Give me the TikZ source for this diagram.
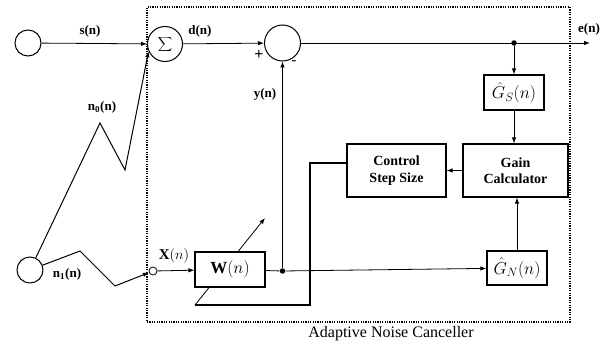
\documentclass[tikz,border=0pt]{standalone}
\usepackage{fontspec}
\setmainfont{Liberation Serif}
\usetikzlibrary{arrows.meta}
\begin{document}
\begin{tikzpicture}[x=1pt,y=-1pt, line width=0.8pt, >={Latex[length=6pt,width=4.5pt]},
  src/.style={circle, draw, minimum size=26pt, inner sep=0pt, line width=1pt},
  blk/.style={rectangle, draw, fill=white, line width=1.2pt, inner sep=1pt, align=center,
    font=\bfseries\fontsize{14}{16.5}\selectfont},
  mblk/.style={blk, font=\fontsize{17}{19}\selectfont},
  lbl/.style={font=\bfseries\fontsize{13}{15}\selectfont, inner sep=1pt},
  junc/.style={circle, fill, minimum size=5.5pt, inner sep=0pt},
  zig/.style={line width=1pt}]
\useasboundingbox (0,0) rectangle (605,345);

% dotted frame of the canceller
\node[draw, dash pattern=on 1.2pt off 1.2pt, line width=1.3pt, minimum width=423pt,
      minimum height=315pt, inner sep=0pt] (anc) at (358.5,164.5) {};
\node[font=\fontsize{16}{18}\selectfont, inner sep=1pt] (anclbl) at (391,334) {Adaptive Noise Canceller};

% adaptation path (drawn before W so the box covers it)
\coordinate (c1) at (310,163);
\coordinate (c2) at (310,305);
\coordinate (wa) at (195,305);
\coordinate (wtip) at (265,218);
\draw[->] (wa) -- (wtip);

% sources and summers
\node[src] (s) at (28,43) {};
\node[src] (n1) at (30,270) {};
\node[src, minimum size=35pt] (sum) at (165,44) {\fontsize{15}{15}\selectfont$\displaystyle\sum$};
\node[src, minimum size=36pt] (sub) at (282.5,43) {};
\node[circle, draw, minimum size=8pt, inner sep=0pt, line width=0.8pt] (xin) at (153,271) {};

% blocks
\node[mblk, minimum width=70pt, minimum height=35pt] (W) at (230,269.5) {$\mathbf{W}(n)$};
\node[mblk, minimum width=60pt, minimum height=35pt, inner sep=0pt] (GS) at (514,92.5) {$\hat{G}_S(n)$};
\node[mblk, minimum width=60pt, minimum height=34pt, inner sep=0pt] (GN) at (517,268) {$\hat{G}_N(n)$};
\node[blk, minimum width=105pt, minimum height=53pt] (gain) at (515.5,170.5) {Gain\\Calculator};
\node[blk, minimum width=99pt, minimum height=53pt] (ctrl) at (396.5,170.5) {Control\\Step Size};

% junctions
\node[junc] (j1) at (514,43) {};
\node[junc] (j2) at (282.5,271) {};
\coordinate (eout) at (590,43);

% labels
\node[lbl] (sl) at (90,31) {s(n)};
\node[lbl] (dl) at (200,31) {d(n)};
\node[lbl] (el) at (589,29) {e(n)};
\node[lbl] (yl) at (265,94) {y(n)};
\node[lbl] (n0l) at (102,107) {n\textsubscript{0}(n)};
\node[lbl] (n1l) at (67,274) {n\textsubscript{1}(n)};
\node[lbl, font=\fontsize{15}{17}\selectfont] (xl) at (174,256) {$\mathbf{X}(n)$};
\node[font=\bfseries\fontsize{16}{16}\selectfont, inner sep=0pt] (plus) at (259,55) {+};
\node[font=\bfseries\fontsize{14}{14}\selectfont, inner sep=0pt] (minus) at (294,63) {-};

% connectors
\draw[->] (s) -- (sum);
\draw[->] (sum) -- (sub);
\draw[->] (sub) -- (eout);
\draw[zig, ->] (n1) -- (100,123) -- (125,170) -- (sum.204);
\draw[zig, ->] (n1) -- (80,251) -- (115,286) -- (xin);
\draw[->] (xin) -- (W);
\draw (W) -- (j2);
\draw[->] (j2) -- (sub);
\draw[->] (j2) -- (GN);
\draw[->] (j1) -- (j1 |- GS.north);
\draw[->] (GS.south) -- (GS.south |- gain.north);
\draw[->] (GN.north) -- (GN.north |- gain.south);
\draw[->] (gain) -- (ctrl);
\draw[line width=1.2pt] (ctrl.west |- c1) -- (c1) -- (c2) -- (wa);
\end{tikzpicture}
\end{document}
